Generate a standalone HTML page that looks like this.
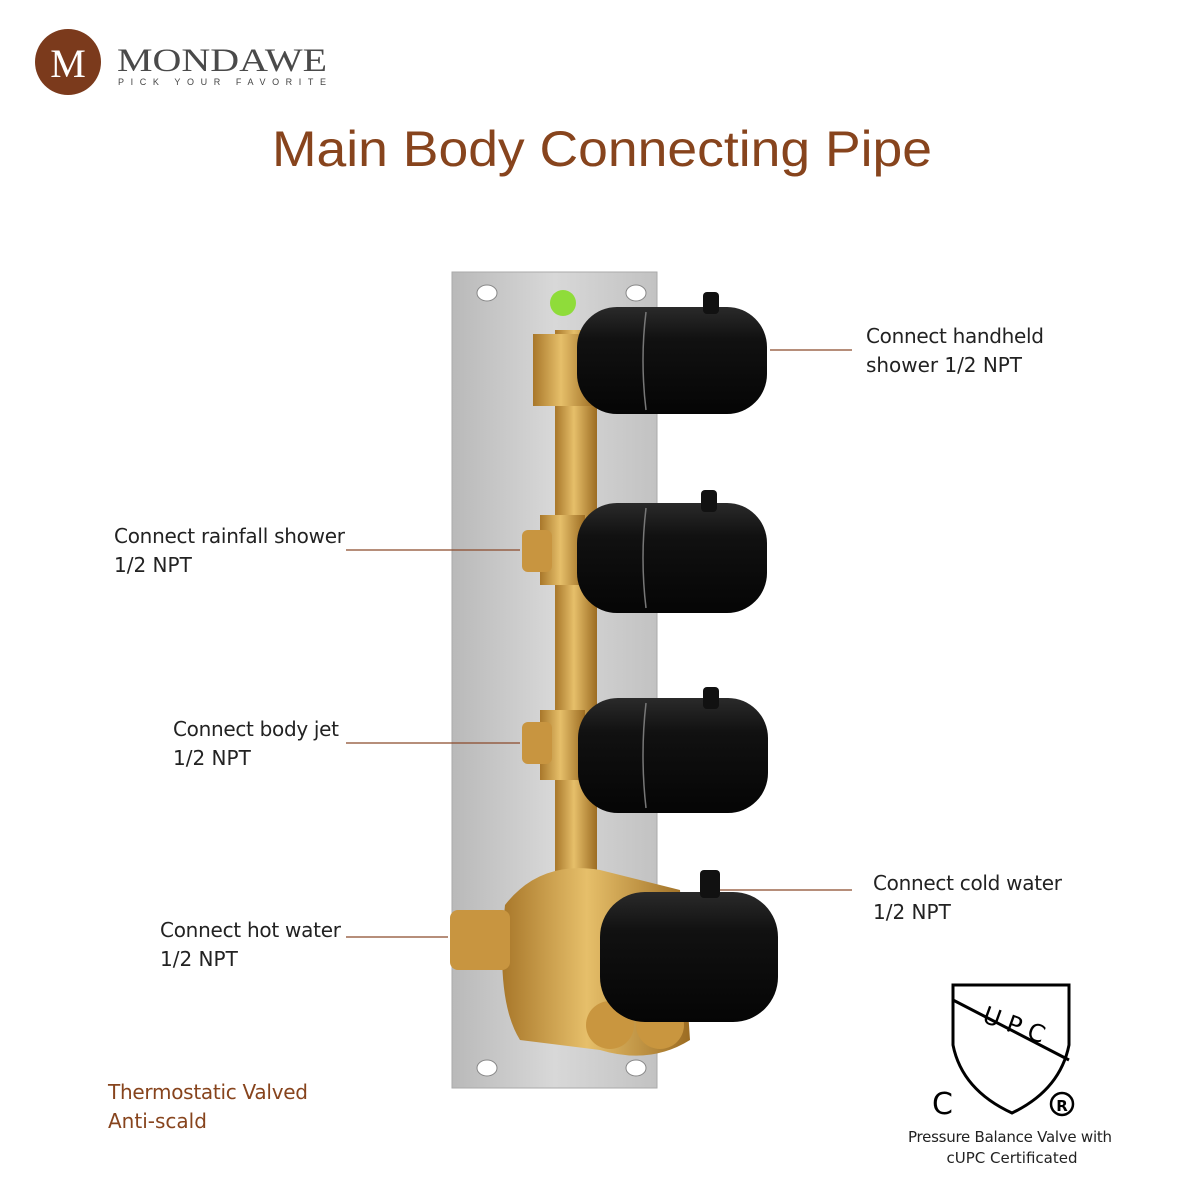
<!DOCTYPE html>
<html><head><meta charset="utf-8"><style>
body{margin:0;background:#fff}
svg{display:block}
text{font-family:"DejaVu Sans","Liberation Sans",sans-serif}
</style></head><body>
<svg width="1200" height="1200" viewBox="0 0 1200 1200">
<defs>
<linearGradient id="plate" x1="0" x2="1"><stop offset="0" stop-color="#b9b9b9"/><stop offset=".5" stop-color="#d8d8d8"/><stop offset="1" stop-color="#c2c2c2"/></linearGradient>
<linearGradient id="brass" x1="0" x2="1"><stop offset="0" stop-color="#a8772a"/><stop offset=".45" stop-color="#e6bf6a"/><stop offset="1" stop-color="#9c6c22"/></linearGradient>
<linearGradient id="knob" x1="0" y1="0" x2="0" y2="1"><stop offset="0" stop-color="#2a2a2a"/><stop offset=".3" stop-color="#111"/><stop offset="1" stop-color="#050505"/></linearGradient>
</defs>
<!-- logo -->
<circle cx="68" cy="62" r="33" fill="#7b3a1c"/>
<text x="68" y="77" font-size="40" fill="#fff" text-anchor="middle" style="font-family:'Liberation Serif',serif">M</text>
<text x="117" y="71" font-size="33" fill="#4a4a4a" textLength="210" lengthAdjust="spacingAndGlyphs" style="font-family:'Liberation Serif',serif">MONDAWE</text>
<text x="118" y="85" font-size="9" fill="#444" textLength="208" style="font-family:'Liberation Sans',sans-serif">PICK YOUR FAVORITE</text>
<text x="272" y="166" font-size="50" fill="#87441d" textLength="660" lengthAdjust="spacingAndGlyphs" style="font-family:'Liberation Sans',sans-serif">Main Body Connecting Pipe</text>
<!-- plate -->
<rect x="452" y="272" width="205" height="816" fill="url(#plate)" stroke="#aaa"/>
<ellipse cx="487" cy="293" rx="10" ry="8" fill="#fff" stroke="#888"/>
<ellipse cx="636" cy="293" rx="10" ry="8" fill="#fff" stroke="#888"/>
<ellipse cx="487" cy="1068" rx="10" ry="8" fill="#fff" stroke="#888"/>
<ellipse cx="636" cy="1068" rx="10" ry="8" fill="#fff" stroke="#888"/>
<circle cx="563" cy="303" r="13" fill="#8fdc3a"/>
<!-- pipe -->
<rect x="555" y="330" width="42" height="550" fill="url(#brass)"/>
<rect x="533" y="334" width="62" height="72" fill="url(#brass)"/>
<rect x="540" y="515" width="45" height="70" fill="url(#brass)"/>
<rect x="540" y="710" width="45" height="70" fill="url(#brass)"/>
<rect x="522" y="530" width="30" height="42" rx="6" fill="#c89540"/>
<rect x="522" y="722" width="30" height="42" rx="6" fill="#c89540"/>
<!-- body -->
<path d="M505 905 Q540 860 600 870 L680 890 L690 1040 Q650 1065 600 1050 L520 1040 Q495 1000 505 905Z" fill="url(#brass)"/>
<rect x="450" y="910" width="60" height="60" rx="8" fill="#c89540"/>
<circle cx="610" cy="1025" r="24" fill="#c9963f"/><circle cx="660" cy="1025" r="24" fill="#c9963f"/>
<!-- knobs -->
<g fill="url(#knob)">
<rect x="577" y="307" width="190" height="107" rx="40"/>
<rect x="577" y="503" width="190" height="110" rx="40"/>
<rect x="578" y="698" width="190" height="115" rx="40"/>
<rect x="600" y="892" width="178" height="130" rx="45"/>
</g>
<g fill="#111"><rect x="703" y="292" width="16" height="22" rx="4"/><rect x="701" y="490" width="16" height="22" rx="4"/><rect x="703" y="687" width="16" height="22" rx="4"/><rect x="700" y="870" width="20" height="28" rx="4"/></g>
<g stroke="#777" stroke-width="1.5" fill="none"><path d="M646 312 Q640 360 646 410"/><path d="M646 508 Q640 558 646 608"/><path d="M646 703 Q640 755 646 808"/></g>
<!-- connectors -->
<g stroke="#8b4a2b" stroke-width="1.2">
<line x1="770" y1="350" x2="852" y2="350"/>
<line x1="346" y1="550" x2="520" y2="550"/>
<line x1="346" y1="743" x2="520" y2="743"/>
<line x1="346" y1="937" x2="448" y2="937"/>
<line x1="720" y1="890" x2="852" y2="890"/>
</g>
<g font-size="20" fill="#222">
<text x="866" y="343" textLength="178">Connect handheld</text><text x="866" y="372" textLength="156">shower 1/2 NPT</text>
<text x="114" y="543" textLength="231">Connect rainfall shower</text><text x="114" y="572">1/2 NPT</text>
<text x="173" y="736" textLength="166">Connect body jet</text><text x="173" y="765">1/2 NPT</text>
<text x="160" y="937" textLength="181">Connect hot water</text><text x="160" y="966">1/2 NPT</text>
<text x="873" y="890" textLength="189">Connect cold water</text><text x="873" y="919">1/2 NPT</text>
</g>
<g font-size="20" fill="#87441d"><text x="108" y="1099" textLength="200">Thermostatic Valved</text><text x="108" y="1128">Anti-scald</text></g>
<!-- UPC -->
<path d="M953 985 L1069 985 L1069 1045 Q1060 1090 1012 1113 Q962 1090 953 1045Z" fill="none" stroke="#000" stroke-width="3"/>
<line x1="953" y1="1000" x2="1069" y2="1060" stroke="#000" stroke-width="3"/>
<text x="980" y="1032" font-size="24" fill="#000" transform="rotate(20 1010 1030)">U P C</text>
<text x="932" y="1114" font-size="30" fill="#000">C</text>
<circle cx="1062" cy="1104" r="11" fill="none" stroke="#000" stroke-width="2.5"/>
<text x="1062" y="1111" font-size="15" font-weight="bold" text-anchor="middle">R</text>
<text x="1010" y="1142" font-size="15" fill="#222" text-anchor="middle" textLength="204">Pressure Balance Valve with</text>
<text x="1012" y="1163" font-size="15" fill="#222" text-anchor="middle">cUPC Certificated</text>
</svg>
</body></html>
